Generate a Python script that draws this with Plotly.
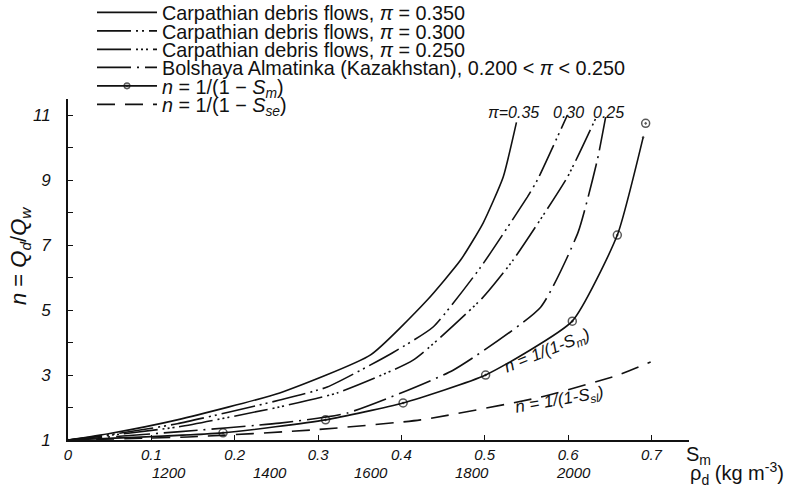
import plotly.graph_objects as go

# ---- data ----
s35_x = [0, 0.05, 0.131, 0.254, 0.363, 0.431, 0.471, 0.498, 0.522, 0.538]
s35_y = [1, 1.2, 1.62, 2.45, 3.62, 5.31, 6.54, 7.68, 9.09, 10.78]

s30_x = [0, 0.06, 0.131, 0.254, 0.311, 0.389, 0.438, 0.495, 0.551, 0.563, 0.599]
s30_y = [1, 1.2, 1.5, 2.23, 2.63, 3.68, 4.48, 6.32, 8.48, 9.0, 11.0]

s25_x = [0, 0.131, 0.254, 0.323, 0.414, 0.497, 0.534, 0.599, 0.633]
s25_y = [1, 1.4, 2.02, 2.45, 3.46, 5.37, 6.54, 9.09, 10.9]

bol_x = [0, 0.131, 0.254, 0.335, 0.462, 0.567, 0.612, 0.635, 0.645]
bol_y = [1, 1.25, 1.52, 1.83, 3.15, 5.09, 7.4, 9.62, 10.94]

sm_x = [0, 0.186, 0.309, 0.402, 0.501, 0.605, 0.659, 0.690, None, 0.693]
sm_y = [1, 1.22, 1.62, 2.14, 3.0, 4.66, 7.31, 10.32, None, 10.75]
sm_marker = [0, 1, 1, 1, 1, 1, 1, 0, 0, 1]

sse_x = [0, 0.15, 0.294, 0.423, 0.567, 0.66, 0.699]
sse_y = [1, 1.1, 1.31, 1.62, 2.32, 3.0, 3.4]

y_ticks = [1, 3, 5, 7, 9, 11]
x_ticks = [0, 0.1, 0.2, 0.3, 0.4, 0.5, 0.6, 0.7]
x_tick_text = ["0", "0.1", "0.2", "0.3", "0.4", "0.5", "0.6", "0.7"]
rho_labels = [1200, 1400, 1600, 1800, 2000]
rho_water = 1000
rho_solid = 2650

names = [
    "Carpathian debris flows, <i>π</i> = 0.350",
    "Carpathian debris flows, <i>π</i> = 0.300",
    "Carpathian debris flows, <i>π</i> = 0.250",
    "Bolshaya Almatinka (Kazakhstan), 0.200 &lt; <i>π</i> &lt; 0.250",
    "<i>n</i> = 1/(1 − <i>S<sub>m</sub></i>)",
    "<i>n</i> = 1/(1 − <i>S<sub>se</sub></i>)",
]

BLACK = "#111111"
LW = 1.6
SMOOTH = 0.5
fig = go.Figure()
fig.add_trace(go.Scatter(x=s35_x, y=s35_y, mode="lines", name=names[0], legend="legend",
                         line=dict(color=BLACK, width=LW, shape="spline", smoothing=SMOOTH)))
fig.add_trace(go.Scatter(x=s30_x, y=s30_y, mode="lines", name=names[1], legend="legend2",
                         line=dict(color=BLACK, width=LW, shape="spline", smoothing=SMOOTH,
                                   dash="34px,5px,2px,4px,2px,5px")))
fig.add_trace(go.Scatter(x=s25_x, y=s25_y, mode="lines", name=names[2], legend="legend3",
                         line=dict(color=BLACK, width=LW, shape="spline", smoothing=SMOOTH,
                                   dash="34px,5px,2px,3px,2px,3px,2px,5px")))
fig.add_trace(go.Scatter(x=bol_x, y=bol_y, mode="lines", name=names[3], legend="legend4",
                         line=dict(color=BLACK, width=LW, shape="spline", smoothing=SMOOTH,
                                   dash="34px,6px,2px,6px")))
fig.add_trace(go.Scatter(x=sm_x, y=sm_y, mode="lines+markers", name=names[4], legend="legend5",
                         connectgaps=False,
                         line=dict(color=BLACK, width=LW, shape="spline", smoothing=SMOOTH),
                         marker=dict(symbol="circle-open-dot", size=[8 * m for m in sm_marker],
                                     color=BLACK, line=dict(width=1.5, color=BLACK))))
fig.add_trace(go.Scatter(x=sse_x, y=sse_y, mode="lines", name=names[5], legend="legend6",
                         line=dict(color=BLACK, width=LW, shape="spline", smoothing=SMOOTH,
                                   dash="18px,10px")))

W, H = 786, 490
L, T, R, B = 68, 99, 97, 50
pw, ph = W - L - R, H - T - B
XMAX, YMIN, YMAX = 0.745, 1, 11.5


def px_x(p):
    return (p - L) / pw


def px_y(p):
    return (H - B - p) / ph


annotations = []
hand = dict(family="Liberation Sans", size=16, color=BLACK, style="italic")
mid = dict(showarrow=False, xanchor="center", yanchor="middle")
annotations += [
    dict(x=0.534, y=11.09, text="π=0.35", font=hand, xref="x", yref="y", **mid),
    dict(x=0.601, y=11.09, text="0.30", font=hand, xref="x", yref="y", **mid),
    dict(x=0.648, y=11.09, text="0.25", font=hand, xref="x", yref="y", **mid),
    dict(x=0.575, y=3.72, text="n = 1/(1-S<sub>m</sub>)",
         font=dict(hand, size=17), textangle=-22, xref="x", yref="y", **mid),
    dict(x=0.59, y=2.2, text="n = 1/(1-S<sub>sl</sub>)",
         font=dict(hand, size=17), textangle=-10, xref="x", yref="y", **mid),
]
for r in rho_labels:
    annotations.append(dict(x=(r - rho_water) / (rho_solid - rho_water), y=px_y(472),
                            xref="x", yref="paper", text=str(r), **mid,
                            font=dict(family="Liberation Sans", size=15, color=BLACK, style="italic")))
annotations += [
    dict(x=px_x(684), y=px_y(455), xref="paper", yref="paper", xanchor="left", yanchor="middle",
         text="S<sub>m</sub>", showarrow=False,
         font=dict(family="Liberation Sans", size=20, color=BLACK)),
    dict(x=px_x(688), y=px_y(474), xref="paper", yref="paper", xanchor="left", yanchor="middle",
         text="ρ<sub>d</sub> (kg m<sup>-3</sup>)", showarrow=False,
         font=dict(family="Liberation Sans", size=20, color=BLACK)),
    dict(x=px_x(20), y=px_y(256), xref="paper", yref="paper", textangle=-90,
         text="<i>n</i> = <i>Q<sub>d</sub></i>/<i>Q<sub>w</sub></i>", **mid,
         font=dict(family="Liberation Sans", size=22, color=BLACK)),
]

row_centers = [12.5, 31, 49.5, 67.5, 86, 104.5]
legend_font = dict(family="Liberation Sans", size=19.8, color=BLACK)
legends = {}
for i, c in enumerate(row_centers):
    key = "legend" if i == 0 else f"legend{i + 1}"
    legends[key] = dict(x=px_x(92), y=px_y(c), xanchor="left", yanchor="middle",
                        bgcolor="rgba(0,0,0,0)", itemwidth=60, font=legend_font)

fig.update_layout(
    width=W, height=H,
    margin=dict(l=L, r=R, t=T, b=B, autoexpand=False),
    paper_bgcolor="white", plot_bgcolor="white",
    font=dict(family="Liberation Sans", color=BLACK),
    showlegend=True,
    annotations=annotations,
    xaxis=dict(range=[0, XMAX], showgrid=False, zeroline=False,
               showline=True, linecolor=BLACK, linewidth=2,
               tickvals=x_ticks, ticktext=x_tick_text,
               ticks="inside", ticklen=5, tickcolor=BLACK, tickwidth=1,
               ticklabelstandoff=0,
               tickfont=dict(family="Liberation Sans", size=15, color=BLACK, style="italic")),
    yaxis=dict(range=[YMIN, YMAX], showgrid=False, zeroline=False,
               showline=True, linecolor=BLACK, linewidth=2,
               tickvals=y_ticks,
               ticks="inside", ticklen=5, tickcolor=BLACK, tickwidth=1,
               minor=dict(dtick=1, ticks="inside", ticklen=5, tickcolor=BLACK, tickwidth=1),
               ticklabelstandoff=12,
               tickfont=dict(family="Liberation Sans", size=17, color=BLACK, style="italic")),
    **legends,
)

fig.write_html("out.html", config={"displayModeBar": False},
               post_script="document.body.style.margin='0px';")
